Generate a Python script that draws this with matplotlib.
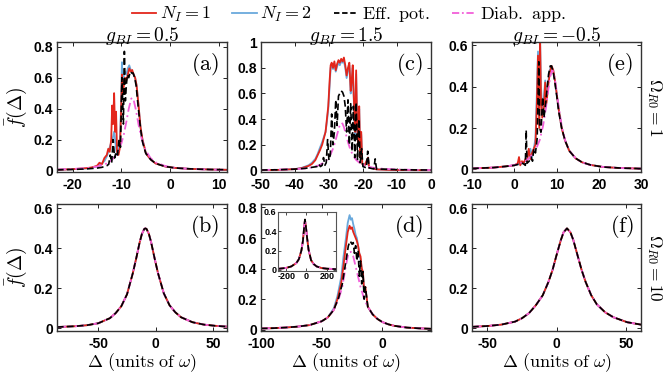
import matplotlib
matplotlib.use('Agg')
import matplotlib.pyplot as plt

plt.rcParams['mathtext.fontset'] = 'cm'
plt.rcParams['font.family'] = ['Liberation Sans', 'DejaVu Sans']
plt.rcParams['axes.unicode_minus'] = False

RED = '#e3261b'
BLUE = '#6aa9dc'
BLACK = 'black'
PINK = '#f25fd9'

# ---- panel (a): g_BI = 0.5, Omega_R0 = 1
a_x = [-23.2, -20, -17, -16, -15, -14.5, -14, -13.5, -13, -12.7, -12.4, -12.1, -11.9, -11.7, -11.5,
       -11.3, -11.1, -10.9, -10.6, -10.3, -10.1, -9.9, -9.7, -9.5, -9.3, -9.0, -8.7, -8.4, -8.1, -7.8,
       -7.5, -7.2, -6.9, -6.5, -6.1, -5.7, -5.3, -5, -4, -3, -1, 1, 4, 8, 11.6]
a_n1 = [0.004, 0.008, 0.015, 0.02, 0.03, 0.05, 0.04, 0.08, 0.1, 0.14, 0.12, 0.2, 0.42, 0.3, 0.5,
        0.25, 0.38, 0.12, 0.1, 0.15, 0.35, 0.62, 0.5, 0.55, 0.6, 0.58, 0.62, 0.66, 0.64, 0.65,
        0.62, 0.6, 0.55, 0.42, 0.28, 0.2, 0.15, 0.11, 0.07, 0.045, 0.025, 0.016, 0.01, 0.006, 0.004]
a_n2 = [0.004, 0.008, 0.013, 0.018, 0.025, 0.035, 0.045, 0.06, 0.09, 0.12, 0.15, 0.18, 0.2, 0.22, 0.25,
        0.2, 0.14, 0.1, 0.12, 0.2, 0.4, 0.7, 0.55, 0.62, 0.64, 0.62, 0.66, 0.68, 0.65, 0.63,
        0.62, 0.6, 0.55, 0.42, 0.28, 0.2, 0.15, 0.11, 0.07, 0.045, 0.025, 0.016, 0.01, 0.006, 0.004]
a_eff_x = [-23.2, -20, -17, -15, -14, -13, -12.6, -12.3, -12, -11.7, -11.4, -11.1, -10.8, -10.5, -10.2,
           -9.9, -9.6, -9.4, -9.2, -9.0, -8.8, -8.5, -8.2, -7.9, -7.6, -7.3, -7.0, -6.6, -6.2, -5.8,
           -5.4, -5, -4, -3, -1, 1, 4, 8, 11.6]
a_eff = [0.004, 0.006, 0.01, 0.015, 0.02, 0.03, 0.04, 0.1, 0.05, 0.2, 0.08, 0.12, 0.1, 0.2, 0.15,
         0.6, 0.3, 0.77, 0.45, 0.55, 0.62, 0.6, 0.64, 0.63, 0.63, 0.6, 0.55, 0.42, 0.3, 0.2,
         0.15, 0.11, 0.07, 0.045, 0.025, 0.016, 0.01, 0.006, 0.004]
a_dia_x = [-23.2, -20, -17, -15, -13, -12, -11, -10, -9.5, -9, -8.5, -8, -7.8, -7.5, -7, -6.5, -6,
           -5.5, -5, -4, -3, -1, 1, 4, 8, 11.6]
a_dia = [0.0057, 0.009, 0.0155, 0.025, 0.045, 0.066, 0.103, 0.176, 0.235, 0.314, 0.40, 0.464, 0.47,
         0.456, 0.385, 0.297, 0.222, 0.166, 0.127, 0.078, 0.052, 0.0276, 0.0169, 0.0096, 0.0054, 0.0036]

# ---- panel (c): g_BI = 1.5, Omega_R0 = 1
c_x = [-50, -45, -40, -38, -36, -35, -34, -33.3, -32.6, -32, -31.5, -31, -30.6, -30.2, -29.8, -29.5,
       -29.2, -28.8, -28.4, -28, -27.6, -27.2, -26.8, -26.4, -26, -25.6, -25.2, -24.8, -24.4, -24,
       -23.6, -23.3, -23, -22.6, -22.3, -22, -21.7, -21.4, -21.1, -20.8, -20.5, -20.2, -19.5, -18.5,
       -18.2, -17.5, -16, -12, -6, 0]
c_n1 = [0.002, 0.004, 0.01, 0.018, 0.035, 0.05, 0.08, 0.12, 0.16, 0.2, 0.25, 0.3, 0.4, 0.5, 0.7, 0.82,
        0.84, 0.8, 0.85, 0.78, 0.83, 0.86, 0.84, 0.87, 0.85, 0.88, 0.82, 0.74, 0.8, 0.84,
        0.62, 0.7, 0.82, 0.5, 0.3, 0.78, 0.35, 0.2, 0.5, 0.1, 0.3, 0.05, 0.04, 0.1,
        0.02, 0.02, 0.008, 0.004, 0.002, 0.001]
c_n2 = [0.002, 0.004, 0.01, 0.02, 0.04, 0.06, 0.09, 0.13, 0.18, 0.22, 0.26, 0.3, 0.38, 0.48, 0.66, 0.8,
        0.82, 0.79, 0.83, 0.77, 0.81, 0.84, 0.82, 0.85, 0.84, 0.85, 0.8, 0.72, 0.78, 0.82,
        0.6, 0.68, 0.8, 0.48, 0.28, 0.75, 0.33, 0.2, 0.48, 0.1, 0.28, 0.05, 0.04, 0.1,
        0.02, 0.02, 0.008, 0.004, 0.002, 0.001]
c_eff_x = [-50, -45, -40, -37, -35, -33.5, -33, -32.5, -32, -31.6, -31.2, -30.8, -30.4, -30, -29.6,
           -29.2, -28.8, -28.4, -28, -27.6, -27.2, -26.8, -26.4, -26, -25.6, -25.2, -24.8, -24.4, -24,
           -23.6, -23.2, -22.8, -22.4, -22, -21.6, -21.2, -20.8, -20.4, -20, -19, -18.6, -18.2, -17.5,
           -16.8, -16.4, -16, -14, -10, -5, 0]
c_eff = [0.003, 0.005, 0.01, 0.016, 0.024, 0.03, 0.05, 0.03, 0.04, 0.1, 0.04, 0.06, 0.24, 0.08, 0.12,
         0.44, 0.2, 0.3, 0.55, 0.35, 0.58, 0.6, 0.62, 0.61, 0.58, 0.5, 0.3, 0.55, 0.2,
         0.52, 0.15, 0.5, 0.1, 0.53, 0.08, 0.4, 0.06, 0.17, 0.03, 0.02, 0.15, 0.02, 0.015,
         0.012, 0.09, 0.01, 0.01, 0.006, 0.004, 0.003]
c_dia_x = [-50, -45, -40, -37, -35, -33, -31.5, -30.5, -29.5, -28.8, -28.2, -27.6, -27, -26.6, -26.3,
           -26, -25.6, -25, -24.4, -23.8, -23, -22, -21, -19, -17, -14, -10, -5, 0]
c_dia = [0.0035, 0.0055, 0.010, 0.016, 0.024, 0.039, 0.061, 0.085, 0.126, 0.17, 0.22, 0.28, 0.338,
         0.364, 0.37, 0.364, 0.338, 0.28, 0.22, 0.17, 0.121, 0.082, 0.059, 0.033, 0.021, 0.0125,
         0.0072, 0.0043, 0.0028]

# ---- panel (e): g_BI = -0.5, Omega_R0 = 1
e_x = [-10, -5, -2, 0, 0.8, 1.1, 1.4, 1.8, 2.2, 2.6, 3.0, 3.4, 3.8, 4.2, 4.6, 5.0, 5.3, 5.6, 5.9, 6.1,
       6.3, 6.6, 7.0, 7.3, 7.6, 8.0, 8.4, 8.8, 9.2, 9.6, 10, 10.5, 11.2, 12, 13, 14.5, 16, 18, 21, 25, 30]
e_n1 = [0.005, 0.009, 0.015, 0.02, 0.03, 0.06, 0.02, 0.04, 0.03, 0.05, 0.04, 0.1, 0.05, 0.08, 0.1,
        0.12, 0.3, 0.55, 0.2, 0.62, 0.35, 0.25, 0.3, 0.42, 0.32, 0.4, 0.47, 0.5, 0.48, 0.43,
        0.37, 0.29, 0.2, 0.14, 0.09, 0.054, 0.035, 0.022, 0.012, 0.007, 0.004]
e_n2 = [0.005, 0.009, 0.015, 0.02, 0.025, 0.03, 0.025, 0.03, 0.035, 0.04, 0.05, 0.08, 0.1, 0.06, 0.1,
        0.15, 0.35, 0.57, 0.3, 0.62, 0.4, 0.3, 0.35, 0.43, 0.35, 0.42, 0.48, 0.5, 0.48, 0.43,
        0.37, 0.29, 0.2, 0.14, 0.09, 0.054, 0.035, 0.022, 0.012, 0.007, 0.004]
e_eff_x = [-10, -5, -2, 0, 2, 2.6, 2.8, 3.0, 3.5, 4, 4.3, 4.6, 5, 5.4, 5.8, 6.0, 6.3, 6.7, 7.0, 7.3,
           7.7, 8.1, 8.5, 8.8, 9.2, 9.6, 10, 10.5, 11.2, 12, 13, 14.5, 16, 18, 21, 25, 30]
e_eff = [0.005, 0.009, 0.015, 0.02, 0.03, 0.02, 0.19, 0.03, 0.04, 0.06, 0.04, 0.1, 0.08, 0.15, 0.52,
         0.2, 0.18, 0.35, 0.25, 0.3, 0.38, 0.46, 0.5, 0.5, 0.47, 0.42, 0.36, 0.28, 0.2, 0.14,
         0.09, 0.054, 0.035, 0.022, 0.012, 0.007, 0.004]
e_dia_x = [-10, -5, -2, 0, 2, 3.5, 5, 6, 6.8, 7.5, 8, 8.5, 9, 9.5, 10, 10.5, 11.2, 12, 13, 14.5, 16,
           18, 21, 25, 30]
e_dia = [0.005, 0.0091, 0.0146, 0.0215, 0.0345, 0.0536, 0.092, 0.142, 0.211, 0.302, 0.38, 0.45, 0.48,
         0.45, 0.38, 0.302, 0.211, 0.142, 0.092, 0.0536, 0.0345, 0.0215, 0.0123, 0.007, 0.0041]

# ---- panel (b): g_BI = 0.5, Omega_R0 = 10 (all four curves coincide)
b_x = [-86, -70, -60, -50, -40, -35, -30, -25, -20, -17, -14, -12, -10, -9, -8, -6, -4, -1, 2, 7,
       12, 17, 22, 32, 42, 52, 62]
b_y = [0.006, 0.01, 0.015, 0.025, 0.05, 0.075, 0.11, 0.17, 0.275, 0.35, 0.43, 0.473, 0.497, 0.5,
       0.497, 0.473, 0.43, 0.35, 0.275, 0.175, 0.115, 0.08, 0.055, 0.03, 0.018, 0.012, 0.008]

# ---- panel (f): g_BI = -0.5, Omega_R0 = 10
f_x = [-61, -50, -40, -30, -25, -20, -15, -10, -6, -3, 0, 3, 5, 7.5, 10, 12, 15, 18, 21, 25, 29,
       35, 41, 51, 61]
f_y = [0.007, 0.011, 0.018, 0.033, 0.05, 0.075, 0.115, 0.165, 0.23, 0.29, 0.367, 0.44, 0.48, 0.5,
       0.48, 0.443, 0.368, 0.293, 0.231, 0.165, 0.12, 0.08, 0.055, 0.03, 0.018]

# ---- panel (d): g_BI = 1.5, Omega_R0 = 10
d_x = [-100, -90, -80, -70, -60, -50, -45, -40, -37, -34, -32, -30, -28.5, -27, -26, -25, -24, -23,
       -22, -21, -20, -19, -18, -17, -16, -15, -14, -12, -8, -4, 0, 5, 10, 20, 30, 40]
d_n1 = [0.008, 0.01, 0.014, 0.02, 0.03, 0.055, 0.08, 0.13, 0.2, 0.3, 0.42, 0.55, 0.64, 0.68, 0.66,
        0.67, 0.64, 0.62, 0.6, 0.58, 0.55, 0.5, 0.48, 0.4, 0.38, 0.25, 0.28, 0.15, 0.1, 0.07, 0.05,
        0.035, 0.025, 0.014, 0.009, 0.006]
d_n2 = [0.008, 0.01, 0.014, 0.02, 0.03, 0.055, 0.08, 0.14, 0.22, 0.34, 0.48, 0.6, 0.7, 0.75, 0.72,
        0.73, 0.69, 0.66, 0.62, 0.6, 0.55, 0.5, 0.46, 0.4, 0.36, 0.25, 0.26, 0.15, 0.1, 0.07, 0.05,
        0.035, 0.025, 0.014, 0.009, 0.006]
d_eff_x = [-100, -90, -80, -70, -60, -50, -45, -40, -36, -33, -30, -28, -26.5, -25, -24, -23, -22,
           -21, -20, -19, -18, -17, -16, -15, -14, -12, -8, -4, 0, 5, 10, 20, 30, 40]
d_eff = [0.008, 0.01, 0.014, 0.02, 0.03, 0.055, 0.08, 0.13, 0.21, 0.3, 0.45, 0.55, 0.58, 0.56, 0.57,
         0.5, 0.55, 0.45, 0.52, 0.35, 0.45, 0.3, 0.38, 0.2, 0.28, 0.15, 0.1, 0.07, 0.05, 0.035,
         0.025, 0.014, 0.009, 0.006]
d_dia_x = [-100, -90, -80, -70, -60, -50, -45, -40, -36, -33, -30, -28, -26, -24, -21, -18, -15, -12,
           -8, -4, 0, 5, 10, 20, 30, 40]
d_dia = [0.008, 0.01, 0.014, 0.02, 0.03, 0.055, 0.08, 0.13, 0.2, 0.28, 0.42, 0.5, 0.51, 0.48, 0.38,
         0.28, 0.2, 0.15, 0.1, 0.07, 0.05, 0.035, 0.025, 0.014, 0.009, 0.006]
# inset of (d), wide range
ins_x = [-280, -200, -150, -100, -75, -50, -35, -25, -15, -5, 5, 20, 45, 70, 100, 150, 200, 290]
ins_y = [0.01, 0.02, 0.035, 0.07, 0.11, 0.2, 0.3, 0.42, 0.52, 0.44, 0.34, 0.21, 0.1, 0.06, 0.035,
         0.018, 0.012, 0.007]

titles = [r'$g_{BI}=0.5$', r'$g_{BI}=1.5$', r'$g_{BI}=-0.5$']
row_labels = [r'$\Omega_{R0}=1$', r'$\Omega_{R0}=10$']

DASH = (0, (4, 2))
DASHDOT = (0, (5, 2, 1, 2))


def draw(ax, n1, n2, eff, dia):
    ax.plot(*n2, color=BLUE, lw=1.3)
    ax.plot(*n1, color=RED, lw=1.3)
    ax.plot(*dia, color=PINK, lw=1.3, ls=DASHDOT)
    ax.plot(*eff, color=BLACK, lw=1.2, ls=DASH)


def style(ax, xlim, ylim, xticks, yticks, ylabels, letter):
    ax.set_xlim(*xlim)
    ax.set_ylim(*ylim)
    ax.set_xticks(xticks)
    ax.set_yticks(yticks)
    ax.set_yticklabels(ylabels)
    ax.tick_params(direction='in', top=True, right=True, length=3, width=0.6, labelsize=10)
    ax.tick_params(axis='x', pad=4.5)
    ax.tick_params(axis='y', pad=3)
    for lab in ax.get_xticklabels() + ax.get_yticklabels():
        lab.set_fontweight('bold')
    for s in ax.spines.values():
        s.set_linewidth(1.0)
        s.set_color('#333333')
    ax.text(0.955, 0.93, r'$\mathrm{(%s)}$' % letter, transform=ax.transAxes, ha='right', va='top',
            fontsize=16)


fig = plt.figure(figsize=(6.64, 3.73), dpi=100)
lefts = [0.0858, 0.393, 0.711]
ax_a = fig.add_axes([lefts[0], 0.539, 0.256, 0.348])
ax_c = fig.add_axes([lefts[1], 0.539, 0.256, 0.348])
ax_e = fig.add_axes([lefts[2], 0.539, 0.2545, 0.348])
ax_b = fig.add_axes([lefts[0], 0.112, 0.256, 0.340])
ax_d = fig.add_axes([lefts[1], 0.112, 0.256, 0.340])
ax_f = fig.add_axes([lefts[2], 0.112, 0.2545, 0.340])

draw(ax_a, (a_x, a_n1), (a_x, a_n2), (a_eff_x, a_eff), (a_dia_x, a_dia))
style(ax_a, (-23.2, 11.6), (-0.01, 0.83), [-20, -10, 0, 10], [0, 0.2, 0.4, 0.6, 0.8],
      ['0', '0.2', '0.4', '0.6', '0.8'], 'a')
draw(ax_c, (c_x, c_n1), (c_x, c_n2), (c_eff_x, c_eff), (c_dia_x, c_dia))
style(ax_c, (-50, 0), (-0.012, 1.0), [-50, -40, -30, -20, -10, 0], [0, 0.2, 0.4, 0.6, 0.8, 1],
      ['0', '0.2', '0.4', '0.6', '0.8', '1'], 'c')
draw(ax_e, (e_x, e_n1), (e_x, e_n2), (e_eff_x, e_eff), (e_dia_x, e_dia))
style(ax_e, (-10, 30), (-0.012, 0.615), [-10, 0, 10, 20, 30], [0, 0.2, 0.4, 0.6],
      ['0', '0.2', '0.4', '0.6'], 'e')
draw(ax_b, (b_x, b_y), (b_x, b_y), (b_x, b_y), (b_x, b_y))
style(ax_b, (-86, 62), (-0.015, 0.62), [-50, 0, 50], [0, 0.2, 0.4, 0.6],
      ['0', '0.2', '0.4', '0.6'], 'b')
draw(ax_d, (d_x, d_n1), (d_x, d_n2), (d_eff_x, d_eff), (d_dia_x, d_dia))
style(ax_d, (-100, 40), (-0.01, 0.82), [-100, -50, 0], [0, 0.2, 0.4, 0.6, 0.8],
      ['0', '0.2', '0.4', '0.6', '0.8'], 'd')
draw(ax_f, (f_x, f_y), (f_x, f_y), (f_x, f_y), (f_x, f_y))
style(ax_f, (-61, 61), (-0.015, 0.62), [-50, 0, 50], [0, 0.2, 0.4, 0.6],
      ['0', '0.2', '0.4', '0.6'], 'f')

# inset in (d)
ax_in = fig.add_axes([0.4187, 0.274, 0.0873, 0.158])
draw(ax_in, (ins_x, ins_y), (ins_x, ins_y), (ins_x, ins_y), (ins_x, ins_y))
ax_in.set_xlim(-280, 290)
ax_in.set_ylim(-0.01, 0.6)
ax_in.set_xticks([-200, 0, 200])
ax_in.set_yticks([0, 0.2, 0.4, 0.6])
ax_in.set_yticklabels(['0', '0.2', '0.4', '0.6'])
ax_in.tick_params(direction='in', top=True, right=True, length=2, width=0.5, labelsize=6.5, pad=1)
for lab in ax_in.get_xticklabels() + ax_in.get_yticklabels():
    lab.set_fontweight('bold')
for s in ax_in.spines.values():
    s.set_linewidth(0.8)
    s.set_color('#555555')

for ax, t in zip([ax_a, ax_c, ax_e], titles):
    ax.set_title(t, fontsize=14, pad=1)
for ax in [ax_a, ax_b]:
    ax.set_ylabel(r'$\bar{f}(\Delta)$', fontsize=14, labelpad=3)
for ax in [ax_b, ax_d, ax_f]:
    ax.set_xlabel(r'$\Delta\ \mathrm{(units\ of\ }\omega\mathrm{)}$', fontsize=13, labelpad=0)
for ax, t in zip([ax_e, ax_f], row_labels):
    ax.text(1.08, 0.5, t, transform=ax.transAxes, rotation=-90, ha='center', va='center',
            fontsize=12.5)

# legend across the top
handles = [
    plt.Line2D([], [], color=RED, lw=1.3),
    plt.Line2D([], [], color=BLUE, lw=1.3),
    plt.Line2D([], [], color=BLACK, lw=1.3, ls=(0, (3, 1.5))),
    plt.Line2D([], [], color=PINK, lw=1.3, ls=(0, (4, 1.5, 1, 1.5))),
]
labels = [r'$N_I=1$', r'$N_I=2$', r'$\mathrm{Eff.\ pot.}$', r'$\mathrm{Diab.\ app.}$']
fig.legend(handles, labels, loc='upper center', bbox_to_anchor=(0.525, 1.028), ncol=4, frameon=False,
           fontsize=13, handlelength=1.35, handletextpad=0.2, columnspacing=1.2, borderpad=0.3)

fig.savefig('out.png', dpi=100)
